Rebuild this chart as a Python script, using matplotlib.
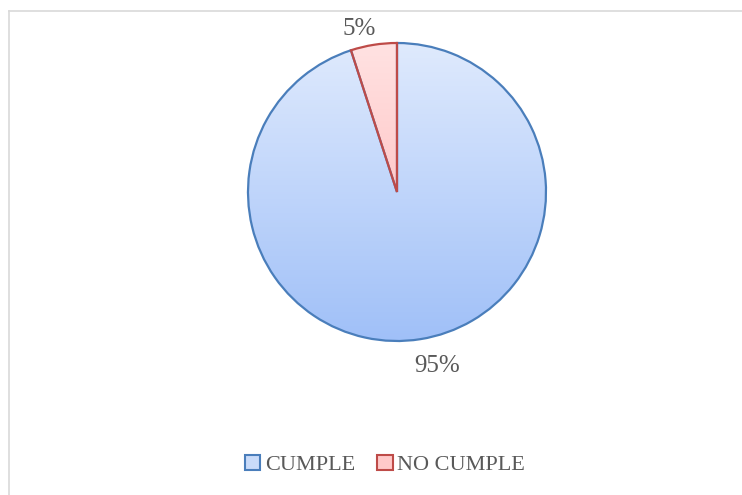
import matplotlib

matplotlib.use("Agg")
import matplotlib.pyplot as plt
import numpy as np
from matplotlib.colors import LinearSegmentedColormap
from matplotlib.lines import Line2D
from matplotlib.patches import Patch

# data
categories = ["CUMPLE", "NO CUMPLE"]
values = [95, 5]
pct_labels = ["95%", "5%"]

# style
fill_top = ["#dfeafd", "#ffe2e2"]
fill_bottom = ["#a0c0f8", "#ffb0b0"]
edge_colors = ["#4a7ebb", "#be4b48"]
legend_fill = ["#c9dbf9", "#ffc9c9"]
text_color = "#595959"

plt.rcParams["font.family"] = ["Liberation Serif", "DejaVu Serif"]

W, H = 742, 495
fig = plt.figure(figsize=(W / 100, H / 100), dpi=100)

# light gray frame: only the left and top edges fall inside the picture
fx, fy = 8.5 / W, 1 - 10.5 / H
for xs, ys in [([fx, fx], [0, fy]), ([fx, 1], [fy, fy])]:
    fig.lines.append(Line2D(xs, ys, transform=fig.transFigure,
                            color="#d9d9d9", linewidth=1.2))

cx, cy, r = 397, 192, 149
ax = fig.add_axes([(cx - r) / W, (H - cy - r) / H, 2 * r / W, 2 * r / H])

wedges, _ = ax.pie(values, startangle=90, counterclock=False, radius=1,
                   wedgeprops=dict(linewidth=1.6))
ax.set_xlim(-1, 1)
ax.set_ylim(-1, 1)
ax.set_aspect("auto")
ax.axis("off")

grad = np.linspace(0, 1, 256).reshape(-1, 1)
for w, top, bot, ec in zip(wedges, fill_top, fill_bottom, edge_colors):
    w.set_facecolor("none")
    w.set_edgecolor(ec)
    w.set_zorder(3)
    cmap = LinearSegmentedColormap.from_list("g", [top, bot])
    im = ax.imshow(grad, cmap=cmap, extent=(-1, 1, -1, 1), origin="upper",
                   aspect="auto", zorder=2)
    im.set_clip_path(w)

# percentage labels placed outside each slice
label_dist = [1.2, 1.12]
label_shift = [4, 4]
for w, lab, d, s in zip(wedges, pct_labels, label_dist, label_shift):
    ang = np.deg2rad((w.theta1 + w.theta2) / 2 + s)
    ax.text(d * np.cos(ang), d * np.sin(ang), lab, ha="center", va="center",
            fontsize=18, color=text_color, clip_on=False)

handles = [Patch(facecolor=f, edgecolor=e, linewidth=1.5)
           for f, e in zip(legend_fill, edge_colors)]
leg = fig.legend(handles, categories, loc="center", bbox_to_anchor=(0.519, 1 - 465 / H),
                 ncol=2, frameon=False, fontsize=16, handlelength=0.7,
                 handleheight=0.7, handletextpad=0.2, columnspacing=1.0)
for t in leg.get_texts():
    t.set_color(text_color)

fig.savefig("out.png", dpi=100)
